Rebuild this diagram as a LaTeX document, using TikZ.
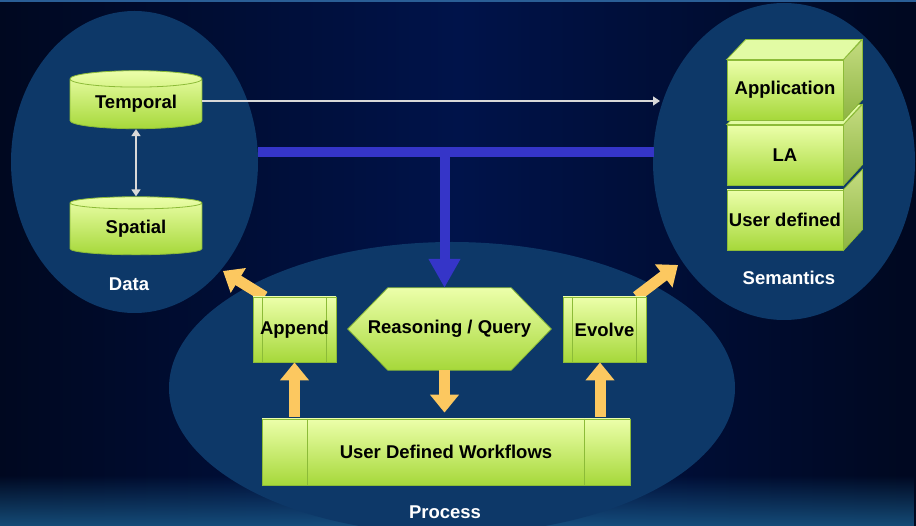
\documentclass[tikz,border=0pt]{standalone}
\usepackage{fontspec}
\setmainfont{Liberation Sans}
\usetikzlibrary{shapes.geometric,arrows.meta,fadings}
\pgfdeclarelayer{bglayer}
\pgfdeclarelayer{midlayer}
\pgfsetlayers{bglayer,midlayer,main}
\definecolor{bgdark}{HTML}{000820}
\definecolor{bgmid}{HTML}{00134A}
\definecolor{bglow}{HTML}{1A5C8C}
\definecolor{topline}{HTML}{2A5E96}
\definecolor{zonefill}{HTML}{0D3868}
\definecolor{gtop}{HTML}{ECFFAA}
\definecolor{gbot}{HTML}{A6D83A}
\definecolor{gline}{HTML}{8CBB38}
\definecolor{gsidetop}{HTML}{C4DC80}
\definecolor{gsidebot}{HTML}{8EB442}
\definecolor{gtopface}{HTML}{E2FBA4}
\definecolor{barblue}{HTML}{3535C8}
\definecolor{orng}{HTML}{FCC860}
\definecolor{arrowgray}{HTML}{D8D8D8}
\begin{document}
\begin{tikzpicture}[x=1pt,y=-1pt,
  txt/.style={font=\bfseries\fontsize{18.5}{21}\selectfont},
  gbox/.style={txt, draw=gline, line width=0.8pt, top color=gtop, bottom color=gbot, inner sep=0pt, text=black},
  zone/.style={ellipse, fill=zonefill, draw=none, inner sep=0pt},
  lbl/.style={txt, text=white},
  cyl/.style={gbox, cylinder, shape border rotate=90, aspect=0.2, minimum width=132pt, minimum height=58pt},
  cube/.style={gbox, minimum width=116pt, minimum height=60pt},
  side/.style={draw=gline, line width=0.8pt, top color=gsidetop, bottom color=gsidebot},
  topf/.style={draw=gline, line width=0.8pt, fill=gtopface},
  wbox/.style={gbox, minimum width=83pt, minimum height=65pt},
  hexfill/.style={draw=gline, line width=0.8pt, top color=gtop, bottom color=gbot},
  innerline/.style={draw=gline, line width=0.6pt},
  oarr/.style={draw=orng, line width=11pt, -{Triangle[width=28pt,length=18pt]}},
  grayarr/.style={draw=arrowgray, line width=1.6pt},
  bluebar/.style={draw=barblue, line width=10pt}
]
\useasboundingbox (0,0) rectangle (916,526);
\begin{pgfonlayer}{bglayer}
\shade[left color=bgdark, right color=bgdark, middle color=bgmid] (0,0) rectangle (916,526);
\fill[bglow, path fading=north, opacity=0.8] (0,475) rectangle (916,526);
\fill[topline] (0,0) rectangle (916,2);
\node[zone, minimum width=247pt, minimum height=302pt] (data) at (134.5,162) {};
\node[zone, minimum width=262pt, minimum height=317pt] (sem) at (784,161.5) {};
\node[zone, minimum width=566pt, minimum height=292pt] (proc) at (452,388) {};
\end{pgfonlayer}
% zone labels
\node[lbl] (datalbl) at (129,284) {Data};
\node[lbl] (semlbl) at (789,278) {Semantics};
\node[lbl] (proclbl) at (445,512) {Process};
% data cylinders
\node[cyl] (temporal) at (136,104) {\raisebox{-3pt}{Temporal}};
\node[cyl] (spatial) at (136,229) {\raisebox{-3pt}{Spatial}};
\draw[grayarr, {Triangle[width=9pt,length=7pt]}-{Triangle[width=9pt,length=7pt]}] (temporal.south) -- (spatial.north);
\coordinate (semin) at (660,101);
\draw[grayarr, -{Triangle[width=9pt,length=7pt]}] (temporal.east |- semin) -- (semin);
% blue bar
\coordinate (barl) at (258,152);
\coordinate (barr) at (654,152);
\coordinate (barj) at (444.5,152);
\draw[bluebar] (barl) -- (barr);
% semantics cubes
\node[cube] (ud) at (785,220) {User defined};
\fill[side] (ud.north east) -- ++(19,-20) -- ++(0,60) -- (ud.south east) -- cycle;
\node[cube] (la) at (785,155) {LA};
\fill[side] (la.north east) -- ++(19,-20) -- ++(0,60) -- (la.south east) -- cycle;
\fill[topf] (la.north west) -- ++(19,-20) -- ++(116,0) -- (la.north east) -- cycle;
\node[cube] (app) at (785,90) {Application};
\fill[side] (app.north east) -- ++(19,-20) -- ++(0,60) -- (app.south east) -- cycle;
\fill[topf] (app.north west) -- ++(19,-20) -- ++(116,0) -- (app.north east) -- cycle;
% process boxes
\coordinate (datatip) at (223,271);
\coordinate (semtip) at (678,265);
\node[wbox] (append) at (294.5,329.5) {};
\node[wbox] (evolve) at (604.5,329.5) {};
\begin{pgfonlayer}{midlayer}
\draw[oarr] ([xshift=12pt]append.north west) -- (datatip);
\draw[oarr] ([xshift=-10pt]evolve.north east) -- (semtip);
\end{pgfonlayer}
\foreach \n in {append,evolve}{
  \draw[innerline] ([xshift=10pt]\n.north west) -- ([xshift=10pt]\n.south west);
  \draw[innerline] ([xshift=-10pt]\n.north east) -- ([xshift=-10pt]\n.south east);
}
\node[txt] (appendtxt) at (append) {Append};
\node[txt] (evolvetxt) at (evolve) {Evolve};
% hexagon
\node[minimum width=203pt, minimum height=82pt, inner sep=0pt] (reason) at (449.5,329) {};
\shade[hexfill] (reason.west) -- ([xshift=40pt]reason.north west) -- ([xshift=-40pt]reason.north east)
  -- (reason.east) -- ([xshift=-40pt]reason.south east) -- ([xshift=40pt]reason.south west) -- cycle;
\node[txt] (reasontxt) at (reason) {Reasoning / Query};
% workflows
\node[gbox, minimum width=368pt, minimum height=66pt] (udw) at (446,452) {};
\draw[innerline] ([xshift=46pt]udw.north west) -- ([xshift=46pt]udw.south west);
\draw[innerline] ([xshift=-46pt]udw.north east) -- ([xshift=-46pt]udw.south east);
\node[txt] (udwtxt) at (udw) {User Defined Workflows};
% blue arrow down
\draw[bluebar, -{Triangle[width=30pt,length=29pt]}] (barj) -- (barj |- reason.north);
% orange vertical arrows
\draw[oarr] ([yshift=2pt]append.south |- udw.north) -- (append.south);
\draw[oarr, shorten >=6pt] (barj |- reason.south) -- (barj |- udw.north);
\draw[oarr] ([yshift=2pt]600,419) -- (evolve.south -| 600,0);
\end{tikzpicture}
\end{document}
